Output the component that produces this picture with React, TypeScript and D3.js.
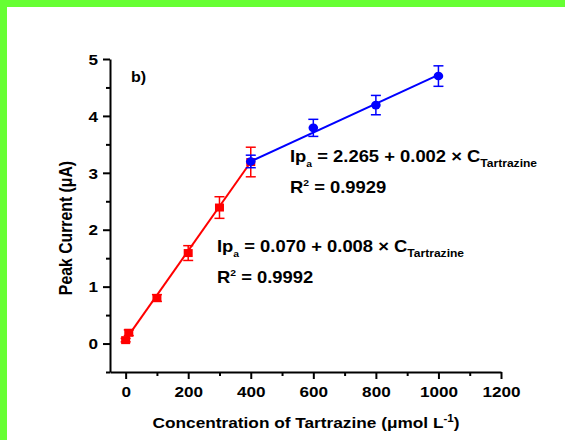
import React, { useEffect, useRef } from "react";
import * as d3 from "d3";

// low range (red squares)
const lowConc = [0, 10, 100, 200, 300, 400];
const lowCurrent = [0.06, 0.19, 0.8, 1.59, 2.39, 3.19];
const lowErr = [0.03, 0.05, 0.06, 0.13, 0.19, 0.26];

// high range (blue circles)
const highConc = [400, 600, 800, 1000];
const highCurrent = [3.2, 3.79, 4.19, 4.7];
const highErr = [0.11, 0.15, 0.17, 0.18];

// fitted lines (end points)
const lowFitX = [0, 400];
const lowFitY = [0.07, 3.19];
const highFitX = [400, 1000];
const highFitY = [3.2, 4.72];

const xTicks = [0, 200, 400, 600, 800, 1000, 1200];
const xMinor = [100, 300, 500, 700, 900, 1100];
const yTicks = [0, 1, 2, 3, 4, 5];
const yMinor = [-0.5, 0.5, 1.5, 2.5, 3.5, 4.5];

const W = 565;
const H = 440;
const FONT = "'Liberation Sans', Arial, sans-serif";
const SX = 1.15; // the original picture is a bit wider than tall

const Chart = () => {
  const ref = useRef<SVGSVGElement>(null);

  useEffect(() => {
    const svg = d3.select(ref.current);
    svg.selectAll("*").remove();

    svg.append("rect").attr("width", W).attr("height", H).attr("fill", "#fff");
    // green frame
    svg.append("rect").attr("x", 0).attr("y", 0).attr("width", W).attr("height", 7).attr("fill", "#66ff33");
    svg.append("rect").attr("x", 0).attr("y", 0).attr("width", 7).attr("height", H).attr("fill", "#66ff33");

    const x = d3.scaleLinear().domain([-50, 1200]).range([110, 501]);
    const y = d3.scaleLinear().domain([-0.5, 5]).range([372, 59]);

    // axes
    const gx = svg.append("g").attr("transform", `translate(0, ${y(-0.5)})`);
    gx.call(d3.axisBottom(x).tickValues(xTicks).tickSize(7).tickSizeOuter(0).tickFormat(d3.format("d")));
    gx.append("g").call(d3.axisBottom(x).tickValues(xMinor).tickSize(4).tickFormat(() => ""))
      .select(".domain").remove();

    const gy = svg.append("g").attr("transform", `translate(${x(-50)}, 0)`);
    gy.call(d3.axisLeft(y).tickValues(yTicks).tickSize(7).tickSizeOuter(0).tickFormat(d3.format("d")));
    gy.append("g").call(d3.axisLeft(y).tickValues(yMinor).tickSize(4).tickFormat(() => ""))
      .select(".domain").remove();

    svg.selectAll(".domain").attr("stroke", "#000").attr("stroke-width", 2);
    svg.selectAll(".tick line").attr("stroke", "#000").attr("stroke-width", 2);
    svg.selectAll(".tick text")
      .attr("font-family", FONT)
      .attr("font-size", 14.5)
      .attr("font-weight", "bold")
      .attr("fill", "#000");
    gx.selectAll(".tick text")
      .attr("y", 0).attr("dy", 0)
      .attr("transform", `translate(0, 25) scale(${SX + 0.03}, 1)`);
    gy.selectAll(".tick text")
      .attr("x", 0).attr("dy", "0.36em")
      .attr("transform", `translate(-12, 0) scale(${SX + 0.03}, 1)`);

    // axis titles
    const xt = svg.append("text")
      .attr("transform", `translate(306, 428) scale(${SX}, 1)`)
      .attr("text-anchor", "middle")
      .attr("font-family", FONT).attr("font-size", 15).attr("font-weight", "bold");
    xt.append("tspan").text("Concentration of Tartrazine (\u03bcmol L");
    xt.append("tspan").attr("dy", -6).attr("font-size", 10).text("-1");
    xt.append("tspan").attr("dy", 6).text(")");

    svg.append("text")
      .attr("transform", `translate(72, 228) scale(${SX}, 1) rotate(-90)`)
      .attr("text-anchor", "middle")
      .attr("font-family", FONT).attr("font-size", 15.8).attr("font-weight", "bold")
      .text("Peak Current (\u03bcA)");

    svg.append("text")
      .attr("transform", `translate(131, 82) scale(${SX}, 1)`)
      .attr("font-family", FONT).attr("font-size", 14).attr("font-weight", "bold")
      .text("b)");

    const line = d3.line<[number, number]>().x(d => x(d[0])).y(d => y(d[1]));

    const drawSeries = (xs, ys, errs, fx, fy, color, shape) => {
      svg.append("path")
        .attr("d", line(fx.map((v, i) => [v, fy[i]])))
        .attr("fill", "none").attr("stroke", color).attr("stroke-width", 2);

      const g = svg.append("g");
      xs.forEach((xv, i) => {
        const cx = x(xv);
        const top = y(ys[i] + errs[i]);
        const bot = y(ys[i] - errs[i]);
        g.append("line").attr("x1", cx).attr("x2", cx).attr("y1", top).attr("y2", bot)
          .attr("stroke", color).attr("stroke-width", 1.5);
        [top, bot].forEach(yy => {
          g.append("line").attr("x1", cx - 5).attr("x2", cx + 5).attr("y1", yy).attr("y2", yy)
            .attr("stroke", color).attr("stroke-width", 1.5);
        });
        if (shape === "square") {
          g.append("rect").attr("x", cx - 4.5).attr("y", y(ys[i]) - 4)
            .attr("width", 9).attr("height", 8).attr("fill", color);
        } else {
          g.append("ellipse").attr("cx", cx).attr("cy", y(ys[i]))
            .attr("rx", 4.8).attr("ry", 4.3).attr("fill", color);
        }
      });
    };

    drawSeries(lowConc, lowCurrent, lowErr, lowFitX, lowFitY, "#ff0000", "square");
    drawSeries(highConc, highCurrent, highErr, highFitX, highFitY, "#0000ff", "circle");

    // equations
    const equation = (x0, y0, text) => {
      const t = svg.append("text").attr("transform", `translate(${x0}, ${y0}) scale(${SX}, 1)`)
        .attr("font-family", FONT).attr("font-size", 16).attr("font-weight", "bold");
      t.append("tspan").text("Ip");
      t.append("tspan").attr("dy", 5).attr("font-size", 9).text("a");
      t.append("tspan").attr("dy", -5).text(text);
      t.append("tspan").attr("dy", 5).attr("font-size", 10.5).text("Tartrazine");
    };
    const rsq = (x0, y0, text) => {
      const t = svg.append("text").attr("transform", `translate(${x0}, ${y0}) scale(${SX}, 1)`)
        .attr("font-family", FONT).attr("font-size", 16).attr("font-weight", "bold");
      t.append("tspan").text("R");
      t.append("tspan").attr("dy", -7).attr("font-size", 9).text("2");
      t.append("tspan").attr("dy", 7).text(text);
    };

    equation(290, 162, " = 2.265 + 0.002 \u00d7 C");
    rsq(290, 193, " = 0.9929");
    equation(217, 252, " = 0.070 + 0.008 \u00d7 C");
    rsq(217, 283, " = 0.9992");
  }, []);

  return <svg ref={ref} width={W} height={H} style={{ position: "absolute", top: 0, left: 0 }}></svg>;
};

export default function App() {
  return <Chart />;
}
